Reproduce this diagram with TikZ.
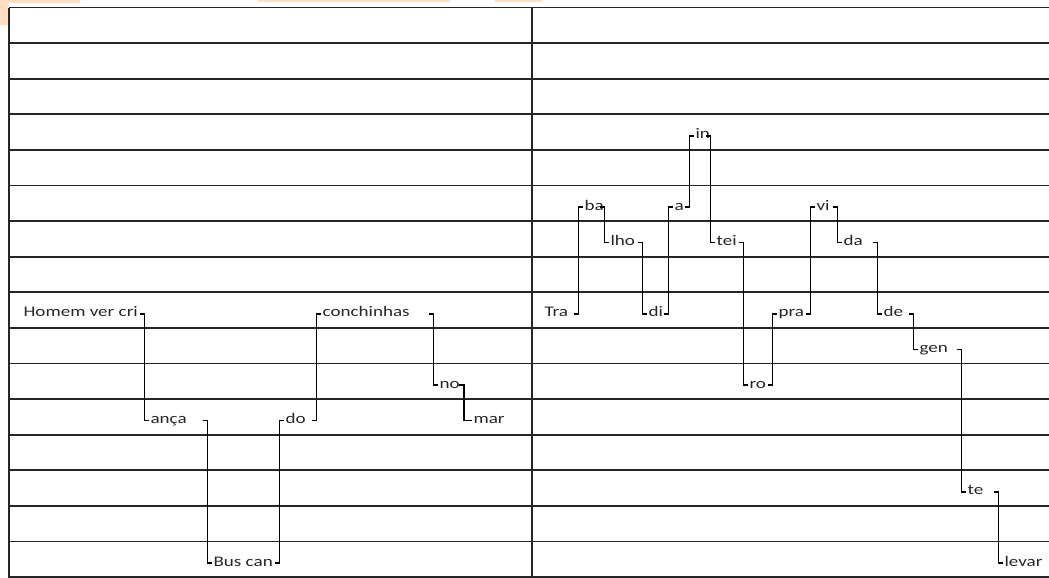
\documentclass[tikz,border=0pt]{standalone}
\usepackage{fontspec}
\newfontfamily\sylfont{Carlito}[FakeStretch=1.3]

\begin{document}
\begin{tikzpicture}[
        x=0.75pt, y=-0.75pt,
        syl/.style={anchor=base west, inner xsep=1pt, inner ysep=0pt, text height=6pt, text depth=1.5pt, font=\sylfont\fontsize{11pt}{13pt}\selectfont, text=black!85},
        hop/.style={draw=black, line width=1pt, to path={([xshift=-#1-3.5pt]\tikztotarget |- \tikztostart) -| ([xshift=-#1]\tikztotarget) -- (\tikztotarget)}},
        hop/.default=3.5pt,
        rule/.style={draw=black!85, line width=1.3pt},
        frame/.style={draw=black!85, line width=1.9pt},
        tab/.style={fill=orange!25, draw=none}
    ]
        \useasboundingbox (0,0) rectangle (1049,578);

        % orange bits at the top edge
        \fill[tab] (0,0) rectangle (80,3);
        \fill[tab] (0,0) rectangle (8,25);
        \fill[tab] (258,0) rectangle (450,2);
        \fill[tab] (495,0) rectangle (542,2);

        % ruled sheet
        \foreach \k in {0,...,16}
            \draw[rule] (9,{7.5+35.6*\k}) -- (1049,{7.5+35.6*\k});
        \draw[frame] (9,7.5) -- (9,578);
        \draw[frame] (532,7.5) -- (532,578);

        % left melody
        \node[syl] (homem) at (22,316.9) {Homem ver cri};
        \node[syl] (anca) at (149,423.7) {ança};
        \node[syl] (buscan) at (212,566.1) {Bus can};
        \node[syl] (do) at (284,423.7) {do};
        \node[syl] (conchinhas) at (321,316.9) {conchinhas};
        \node[syl] (no) at (438,388.1) {no};
        \node[syl] (mar) at (472,423.7) {mar};

        % right melody
        \node[syl] (tra) at (543,316.9) {Tra};
        \node[syl] (ba) at (583,210.1) {ba};
        \node[syl] (lho) at (609,245.7) {lho};
        \node[syl] (di) at (647,316.9) {di};
        \node[syl] (a) at (673,210.1) {a};
        \node[syl] (in) at (694,138.9) {in};
        \node[syl] (tei) at (715,245.7) {tei};
        \node[syl] (ro) at (748,388.1) {ro};
        \node[syl] (pra) at (777,316.9) {pra};
        \node[syl] (vi) at (815,210.1) {vi};
        \node[syl] (da) at (842,245.7) {da};
        \node[syl] (de) at (882,316.9) {de};
        \node[syl] (gen) at (918,352.5) {gen};
        \node[syl] (te) at (966,494.9) {te};
        \node[syl] (levar) at (1003,566.1) {levar};

        \draw[hop] (homem.east) to (anca.west);
        \draw[hop] (anca.east) to (buscan.west);
        \draw[hop] (buscan.east) to (do.west);
        \draw[hop] (do.east) to (conchinhas.west);
        \draw[hop] (conchinhas.east) to (no.west);
        \draw[hop=6pt] (no.east) to (mar.west);

        \draw[hop] (tra.east) to (ba.west);
        \draw[hop] (ba.east) to (lho.west);
        \draw[hop] (lho.east) to (di.west);
        \draw[hop] (di.east) to (a.west);
        \draw[hop] (a.east) to (in.west);
        \draw[hop] (in.east) to (tei.west);
        \draw[hop] (tei.east) to (ro.west);
        \draw[hop] (ro.east) to (pra.west);
        \draw[hop] (pra.east) to (vi.west);
        \draw[hop] (vi.east) to (da.west);
        \draw[hop] (da.east) to (de.west);
        \draw[hop] (de.east) to (gen.west);
        \draw[hop] (gen.east) to (te.west);
        \draw[hop] (te.east) to (levar.west);

    \end{tikzpicture}
\end{document}
